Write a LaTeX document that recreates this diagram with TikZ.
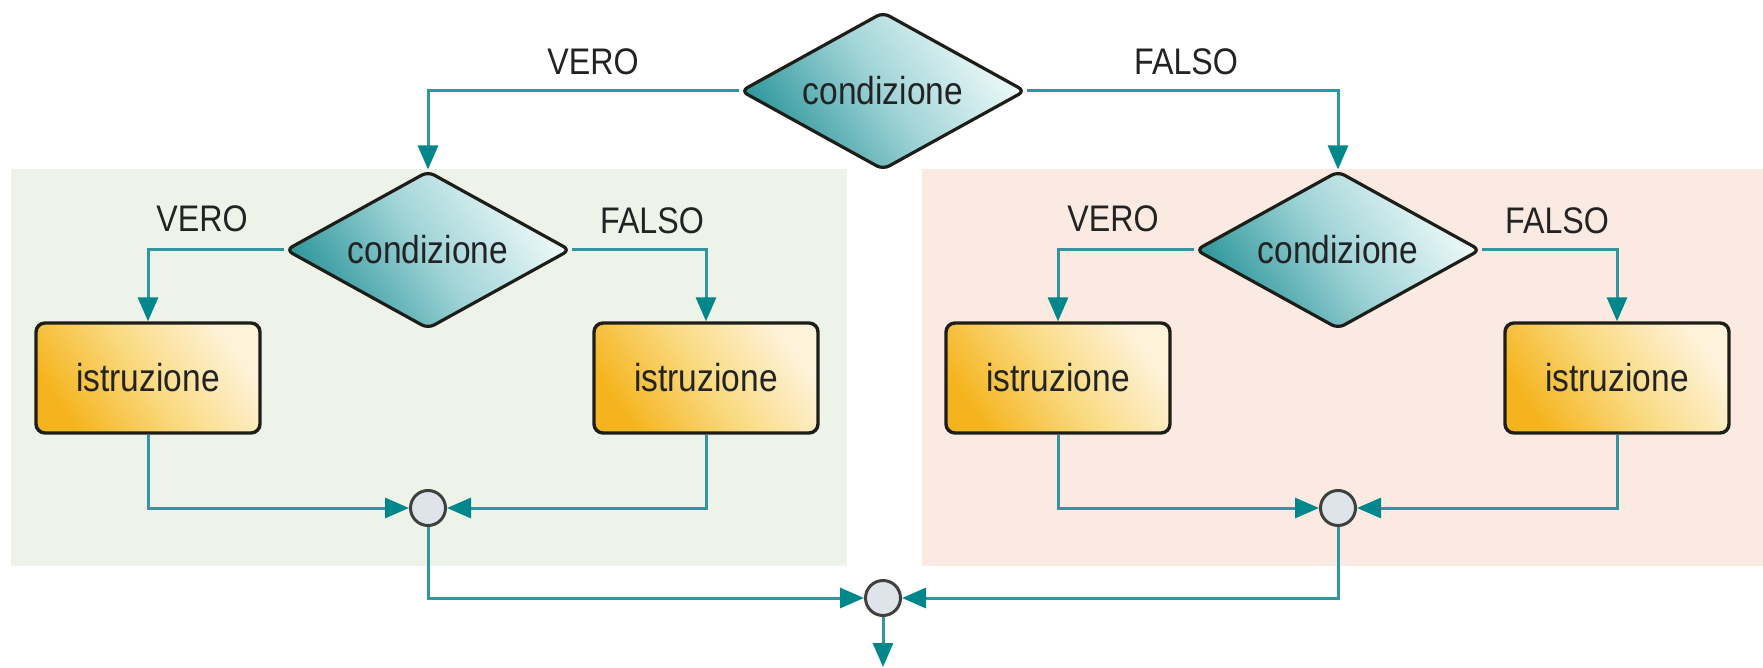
\documentclass[tikz,border=0pt]{standalone}
\usepackage{fontspec}
\setmainfont{Liberation Sans}[FakeStretch=0.87]
\newfontfamily\nodefont{Liberation Sans}[FakeStretch=0.86]
\usetikzlibrary{shapes.geometric,arrows.meta}
\definecolor{tealline}{RGB}{50,150,160}
\definecolor{tealtip}{RGB}{0,135,140}
\definecolor{tealdark}{RGB}{45,150,155}
\definecolor{tealmid}{RGB}{160,212,215}
\definecolor{teallight}{RGB}{240,250,250}
\definecolor{orgdark}{RGB}{245,180,30}
\definecolor{orgmid}{RGB}{250,218,130}
\definecolor{orglight}{RGB}{254,243,218}
\definecolor{greenbg}{RGB}{238,243,234}
\definecolor{redbg}{RGB}{250,234,226}
\definecolor{junctfill}{RGB}{222,228,234}
\definecolor{txt}{RGB}{35,35,35}
\definecolor{border}{RGB}{30,30,25}
\tikzset{
  cond/.style={diamond, aspect=1.78, draw=border, line width=3.2pt, rounded corners=7pt,
    minimum width=285pt, minimum height=158pt, inner sep=0pt,
    top color=teallight, bottom color=tealdark, middle color=tealmid, shading angle=-55,
    font=\nodefont\fontsize{39}{42}\selectfont, text=txt},
  istr/.style={rectangle, draw=border, line width=3.4pt, rounded corners=9pt,
    minimum width=224pt, minimum height=110pt, inner sep=0pt,
    top color=orglight, bottom color=orgdark, middle color=orgmid, shading angle=-55,
    font=\nodefont\fontsize{39}{42}\selectfont, text=txt},
  junc/.style={circle, draw=border!85, line width=3pt, fill=junctfill,
    minimum size=35pt, inner sep=0pt},
  flow/.style={draw=tealline, line width=3pt,
    -{Triangle[length=24pt,width=20pt,color=tealtip]}},
  lbl/.style={font=\fontsize{37}{40}\selectfont, text=txt, inner sep=0pt}
}
\begin{document}
\begin{tikzpicture}[x=1pt,y=-1pt]
\useasboundingbox (0,0) rectangle (1763,668);
\fill[white] (0,0) rectangle (1763,668);
\fill[greenbg] (11,169) rectangle (847,566);
\fill[redbg] (922,169) rectangle (1763,566);

\node[cond] (c0) at (883,91) {condizione};
\node[cond] (c1) at (428,250) {condizione};
\node[cond] (c2) at (1338,250) {condizione};

\node[istr] (i1) at (148,378) {istruzione};
\node[istr] (i2) at (706,378) {istruzione};
\node[istr] (i3) at (1058,378) {istruzione};
\node[istr] (i4) at (1617,378) {istruzione};

\node[junc] (j1) at (428,508) {};
\node[junc] (j2) at (1338,508) {};
\node[junc] (j0) at (883,598) {};
\coordinate (out) at (883,667);

\node[lbl] (l0v) at (593,62) {VERO};
\node[lbl] (l0f) at (1186,62) {FALSO};
\node[lbl] (l1v) at (202,219) {VERO};
\node[lbl] (l1f) at (652,221) {FALSO};
\node[lbl] (l2v) at (1113,219) {VERO};
\node[lbl] (l2f) at (1557,221) {FALSO};

\draw[flow] (c0.west) -| (c1.north);
\draw[flow] (c0.east) -| (c2.north);
\draw[flow] (c1.west) -| (i1.north);
\draw[flow] (c1.east) -| (i2.north);
\draw[flow] (c2.west) -| (i3.north);
\draw[flow] (c2.east) -| (i4.north);
\draw[flow] (i1.south) |- (j1.west);
\draw[flow] (i2.south) |- (j1.east);
\draw[flow] (i3.south) |- (j2.west);
\draw[flow] (i4.south) |- (j2.east);
\draw[flow] (j1.south) |- (j0.west);
\draw[flow] (j2.south) |- (j0.east);
\draw[flow] (j0.south) -- (out);
\end{tikzpicture}
\end{document}
